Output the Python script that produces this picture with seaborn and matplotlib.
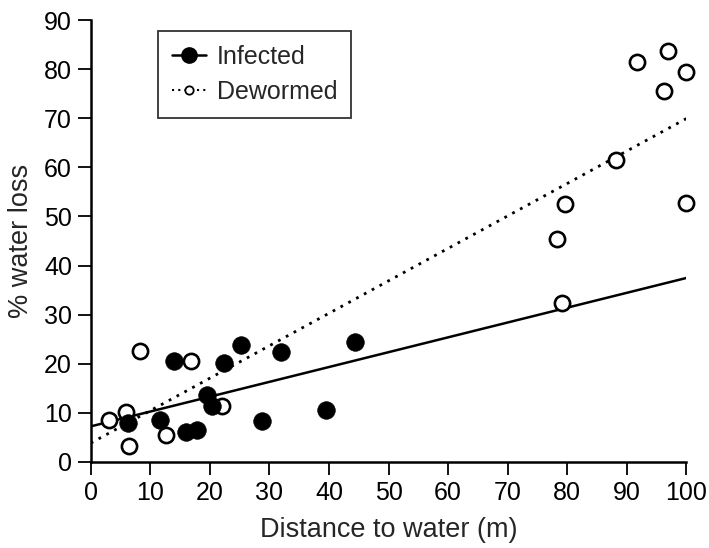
import matplotlib
matplotlib.use("Agg")
import matplotlib.pyplot as plt
import seaborn as sns
import pandas as pd
from matplotlib.lines import Line2D

# Data
infected_x = [6.3, 11.6, 14.0, 16.0, 17.8, 19.6, 20.3, 22.4, 25.3, 28.7, 31.9, 39.5, 44.4]
infected_y = [7.9, 8.6, 20.6, 6.1, 6.5, 13.6, 11.3, 20.2, 23.8, 8.4, 22.3, 10.5, 24.4]
dewormed_x = [3.0, 6.0, 6.4, 8.2, 12.6, 16.9, 22.1, 91.7, 96.9, 100.0, 96.2, 88.2, 79.6, 100.0, 78.3, 79.2]
dewormed_y = [8.6, 10.1, 3.3, 22.6, 5.5, 20.6, 11.3, 81.4, 83.6, 79.5, 75.6, 61.4, 52.5, 52.8, 45.4, 32.3]

x_ticks = [0, 10, 20, 30, 40, 50, 60, 70, 80, 90, 100]
y_ticks = [0, 10, 20, 30, 40, 50, 60, 70, 80, 90]

sns.set_theme(style="ticks")
plt.rcParams['font.family'] = ['Liberation Sans', 'DejaVu Sans']

inf = pd.DataFrame({"x": infected_x, "y": infected_y})
dew = pd.DataFrame({"x": dewormed_x, "y": dewormed_y})

fig = plt.figure(figsize=(7.09, 5.48), dpi=100)
ax = fig.add_axes([0.128, 0.157, 0.840, 0.8065])
ax.set_xlim(0, 100)
ax.set_ylim(0, 90)

sns.regplot(data=inf, x="x", y="y", ax=ax, ci=None, truncate=False,
            scatter=False, line_kws=dict(color="black", lw=1.8, ls="-"))
sns.regplot(data=dew, x="x", y="y", ax=ax, ci=None, truncate=False,
            scatter=False, line_kws=dict(color="black", lw=2.0, ls=(0, (1, 2.2))))

sns.scatterplot(data=dew, x="x", y="y", ax=ax, s=120, color="white",
                edgecolor="black", linewidth=1.9, clip_on=False, zorder=4)
sns.scatterplot(data=inf, x="x", y="y", ax=ax, s=160, color="black",
                edgecolor="black", linewidth=0.5, clip_on=False, zorder=5)

ax.set_xlim(0, 100)
ax.set_ylim(0, 90)
ax.set_xticks(x_ticks)
ax.set_yticks(y_ticks)
ax.tick_params(direction="out", length=9.5, width=1.3, labelsize=18, colors="black", pad=4)
for s in ["top", "right"]:
    ax.spines[s].set_visible(False)
for s in ["left", "bottom"]:
    ax.spines[s].set_linewidth(1.8)
    ax.spines[s].set_color("black")
ax.set_xlabel("Distance to water (m)", fontsize=19.5, labelpad=9)
ax.set_ylabel("% water loss", fontsize=19.5, labelpad=7)

handles = [
    Line2D([], [], color="black", lw=1.8, ls="-", marker="o", markersize=11,
           markerfacecolor="black", markeredgecolor="black"),
    Line2D([], [], color="black", lw=1.5, ls=(0, (1, 2)), marker="o", markersize=6,
           markerfacecolor="white", markeredgecolor="black", markeredgewidth=1.3),
]
leg = ax.legend(handles, ["Infected", "Dewormed"], loc="upper left",
                bbox_to_anchor=(0.113, 0.975), fontsize=18, frameon=True,
                fancybox=False, edgecolor="black", handlelength=1.35,
                handletextpad=0.45, borderpad=0.55, borderaxespad=0,
                labelspacing=0.45)
leg.get_frame().set_linewidth(1.3)

fig.savefig("out.png", dpi=100)
